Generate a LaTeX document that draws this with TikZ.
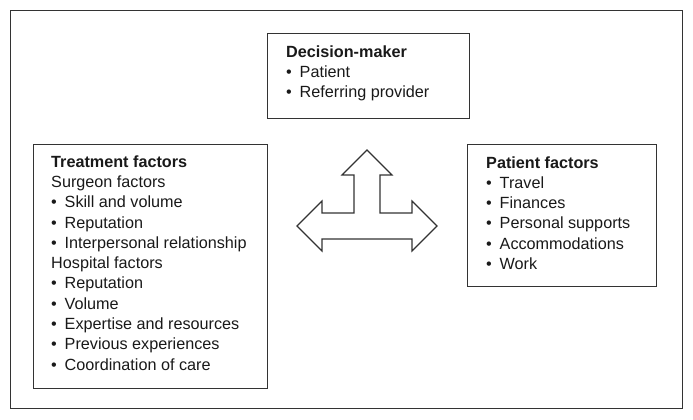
\documentclass[tikz,border=0pt]{standalone}
\usepackage{fontspec}
\setmainfont{Liberation Sans}
\newcommand{\bul}{\makebox[13.5pt][l]{\textbullet}}
\tikzset{
  frame/.style={draw=black!80, line width=1.2pt, rectangle, inner sep=0pt, anchor=north west},
  txt/.style={anchor=base west, inner sep=0pt, font=\fontsize{16.2}{20.3}\selectfont, text=black!90},
  arrowshape/.style={draw=black!80, line width=1.1pt, fill=white, line join=miter}
}
\begin{document}
\begin{tikzpicture}[x=1pt,y=-1pt]
\useasboundingbox (0,0) rectangle (693,420);
\node[frame, minimum width=672pt, minimum height=398pt] (outer) at (10,10) {};
\node[frame, minimum width=202pt, minimum height=85pt] (dm) at (267,33) {};
\node[frame, minimum width=234pt, minimum height=244pt] (tf) at (33,144) {};
\node[frame, minimum width=189pt, minimum height=142pt] (pf) at (467,144) {};
% Decision-maker
\foreach [count=\i] \t in {{\bfseries Decision-maker},{\bul Patient},{\bul Referring provider}}
  \node[txt] (dm-\i) at (286,{57+20.4*(\i-1)}) {\t};
% Treatment factors
\foreach [count=\i] \t in {{\bfseries Treatment factors},{Surgeon factors},{\bul Skill and volume},{\bul Reputation},{\bul Interpersonal relationship},{Hospital factors},{\bul Reputation},{\bul Volume},{\bul Expertise and resources},{\bul Previous experiences},{\bul Coordination of care}}
  \node[txt] (tf-\i) at (51,{167.3+20.27*(\i-1)}) {\t};
% Patient factors
\foreach [count=\i] \t in {{\bfseries Patient factors},{\bul Travel},{\bul Finances},{\bul Personal supports},{\bul Accommodations},{\bul Work}}
  \node[txt] (pf-\i) at (486,{168.3+20.2*(\i-1)}) {\t};
% three-way arrow
\draw[arrowshape] (367,150) -- (392,175) -- (380,175) -- (380,213) -- (412,213) -- (412,201) -- (437,226) -- (412,251) -- (412,239) -- (322,239) -- (322,251) -- (297,226) -- (322,201) -- (322,213) -- (354,213) -- (354,175) -- (342,175) -- cycle;
\end{tikzpicture}
\end{document}
